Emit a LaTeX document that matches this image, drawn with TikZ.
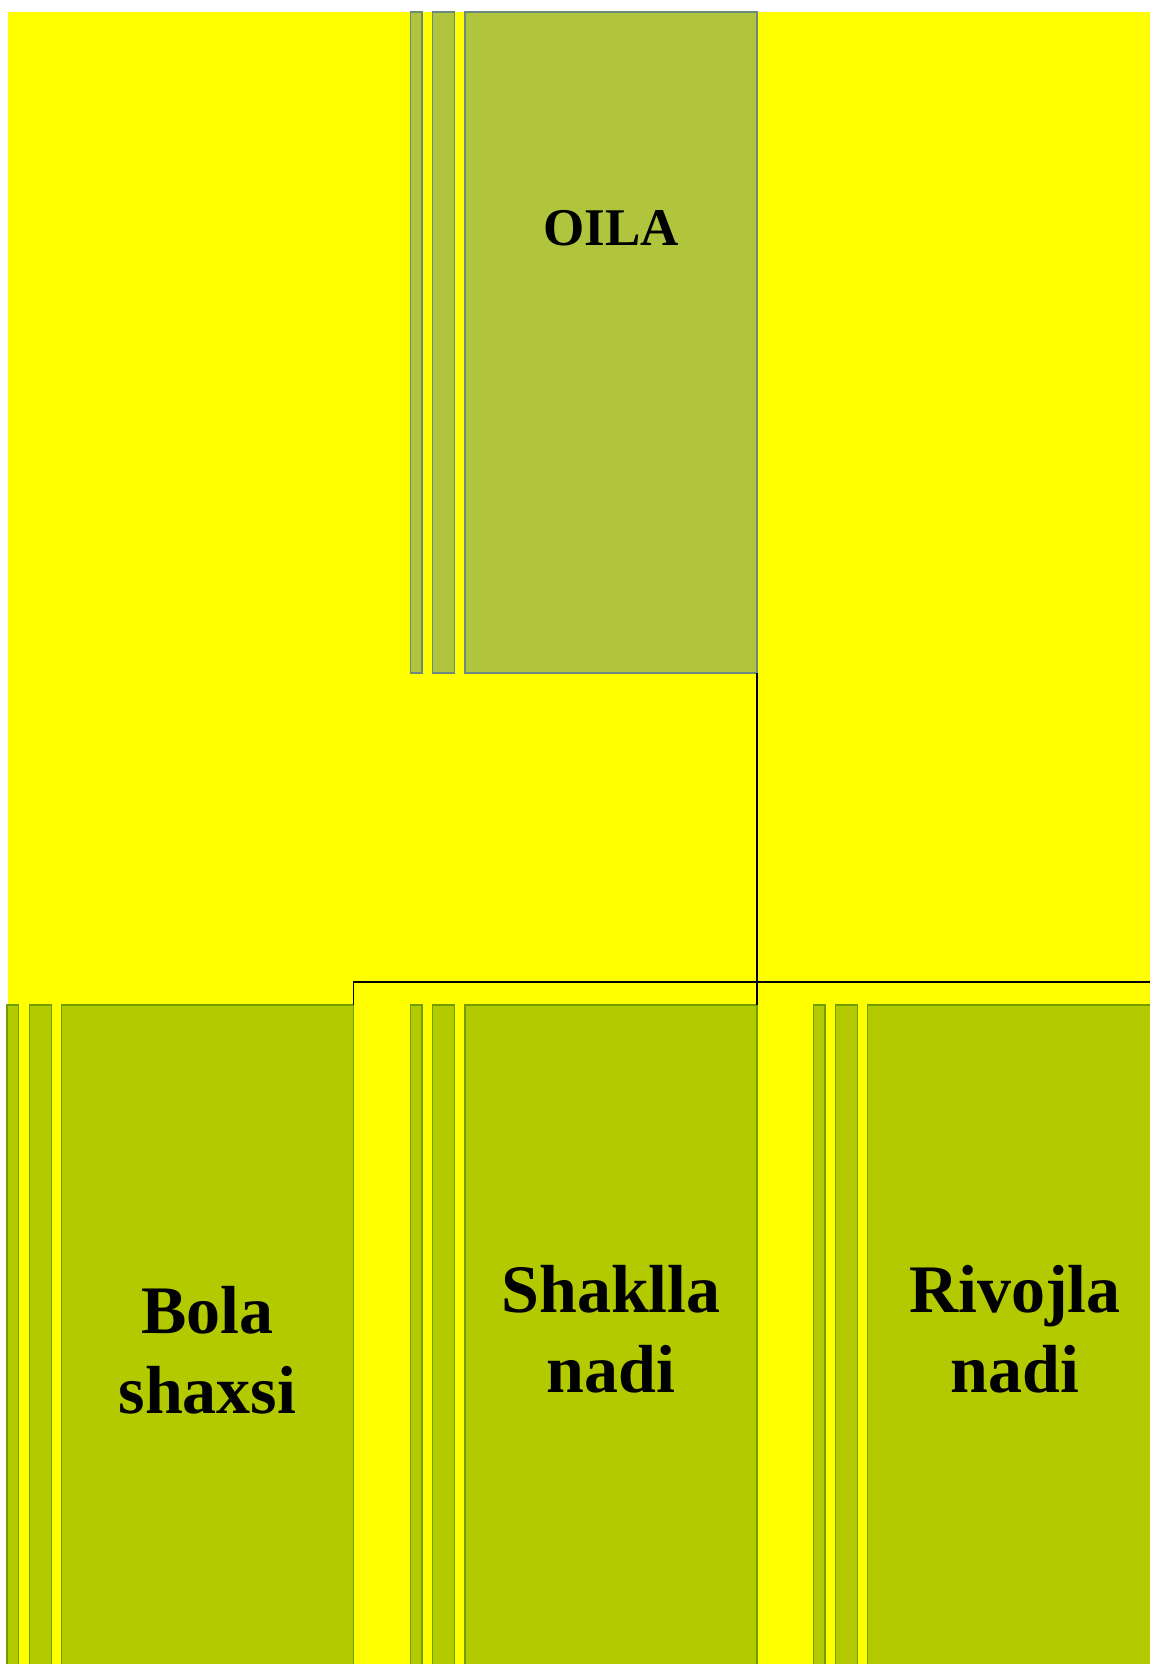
\documentclass[tikz,border=0pt]{standalone}
\usepackage{fontspec}
\setmainfont{Liberation Serif}
\usepackage{tikz}
\definecolor{bgyellow}{HTML}{FFFF00}
\definecolor{topfill}{HTML}{B0C43E}
\definecolor{topline}{HTML}{6A8A80}
\definecolor{lowfill}{HTML}{B4CA00}
\definecolor{lowline}{HTML}{6E9E00}
\tikzset{
  topbox/.style={draw=topline,fill=topfill,line width=1.2pt,inner sep=0pt,outer sep=0pt,anchor=north west,minimum height=661pt},
  lowbox/.style={draw=lowline,fill=lowfill,line width=1.2pt,inner sep=0pt,outer sep=0pt,anchor=north west,minimum height=680pt},
  bigtext/.style={font=\bfseries\fontsize{68}{80}\selectfont,align=center,anchor=base,inner sep=0pt}
}

\begin{document}
\begin{tikzpicture}[x=1pt,y=-1pt]
    \useasboundingbox (0,0) rectangle (1150,1664);
    \clip (0,0) rectangle (1150,1664);
    \fill[bgyellow] (8,12) rectangle (1160,1670);

    \node[topbox,minimum width=11.5pt] (1a) at (410.5,12) {};
    \node[topbox,minimum width=22pt] (1b) at (432.3,12) {};
    \node[topbox,minimum width=292pt] (1) at (465,12) {};
    \node[font=\bfseries\fontsize{53}{60}\selectfont,anchor=base,inner sep=0pt] (t1) at (611,245) {OILA};

    \node[lowbox,minimum width=11.5pt] (2a) at (7,1005) {};
    \node[lowbox,minimum width=22pt] (2b) at (29.3,1005) {};
    \node[lowbox,minimum width=292pt] (2) at (61.3,1005) {};
    \node[bigtext] (t2) at (207.5,1413) {Bola\\shaxsi};

    \node[lowbox,minimum width=11.5pt] (3a) at (410.5,1005) {};
    \node[lowbox,minimum width=22pt] (3b) at (432.3,1005) {};
    \node[lowbox,minimum width=292pt] (3) at (465,1005) {};
    \node[bigtext] (t3) at (611,1392) {Shaklla\\nadi};

    \node[lowbox,minimum width=11.5pt] (4a) at (813.5,1005) {};
    \node[lowbox,minimum width=22pt] (4b) at (835.3,1005) {};
    \node[lowbox,minimum width=292pt] (4) at (867.7,1005) {};
    \node[bigtext] (t4) at (1015,1392) {Rivojla\\nadi};

    \coordinate (level) at (0,982);
    \coordinate (bus) at (1.south east |- level);

    \draw[black,line width=1.4pt] (1.south east) -- (bus) -| (2.north east);
    \draw[black,line width=1.4pt] (bus) -| (3.north east);
    \draw[black,line width=1.4pt] (bus) -| (4.north east);
  \end{tikzpicture}
\end{document}
